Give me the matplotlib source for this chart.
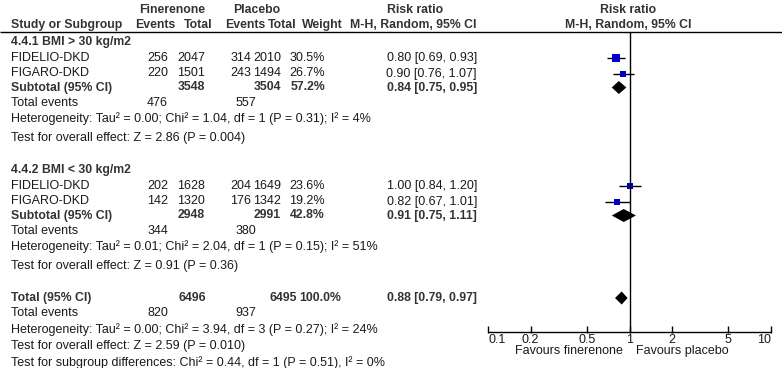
import numpy as np
import matplotlib.pyplot as plt

plt.rcParams["font.family"] = ["Liberation Sans", "DejaVu Sans"]

# study level data
studies = ["FIDELIO-DKD", "FIGARO-DKD", "FIDELIO-DKD", "FIGARO-DKD"]
study_group = [0, 0, 1, 1]
fin_events = [256, 220, 202, 142]
fin_total = [2047, 1501, 1628, 1320]
pla_events = [314, 243, 204, 176]
pla_total = [2010, 1494, 1649, 1342]
weights = [30.5, 26.7, 23.6, 19.2]
rr = [0.80, 0.90, 1.00, 0.82]
rr_lo = [0.69, 0.76, 0.84, 0.67]
rr_hi = [0.93, 1.07, 1.20, 1.01]

# subgroup summaries
subgroups = ["4.4.1 BMI > 30 kg/m2", "4.4.2 BMI < 30 kg/m2"]
sub_fin_events = [476, 344]
sub_fin_total = [3548, 2948]
sub_pla_events = [557, 380]
sub_pla_total = [3504, 2991]
sub_weight = [57.2, 42.8]
sub_rr = [0.84, 0.91]
sub_lo = [0.75, 0.75]
sub_hi = [0.95, 1.11]
sub_het = ["Heterogeneity: Tau\u00b2 = 0.00; Chi\u00b2 = 1.04, df = 1 (P = 0.31); I\u00b2 = 4%",
           "Heterogeneity: Tau\u00b2 = 0.01; Chi\u00b2 = 2.04, df = 1 (P = 0.15); I\u00b2 = 51%"]
sub_z = ["Test for overall effect: Z = 2.86 (P = 0.004)",
         "Test for overall effect: Z = 0.91 (P = 0.36)"]

# overall
tot_fin_events, tot_pla_events = 820, 937
tot_fin_total, tot_pla_total = 6496, 6495
tot_weight = 100.0
tot_rr, tot_lo, tot_hi = 0.88, 0.79, 0.97
tot_notes = ["Heterogeneity: Tau\u00b2 = 0.00; Chi\u00b2 = 3.94, df = 3 (P = 0.27); I\u00b2 = 24%",
             "Test for overall effect: Z = 2.59 (P = 0.010)",
             "Test for subgroup differences: Chi\u00b2 = 0.44, df = 1 (P = 0.51), I\u00b2 = 0%"]

ticks = [0.1, 0.2, 0.5, 1, 2, 5, 10]
tick_labels = ["0.1", "0.2", "0.5", "1", "2", "5", "10"]


def main():
    W, H = 782, 368
    fig = plt.figure(figsize=(W / 100, H / 100), dpi=100)
    ax = fig.add_axes([0, 0, 1, 1])
    ax.set_xlim(0, W)
    ax.set_ylim(H, 0)
    ax.axis("off")

    reg = dict(fontsize=9.0, color="#1a1a1a", va="center")
    bold = dict(fontsize=8.8, color="#333333", va="center", fontweight="bold")

    # column positions (px)
    x_name = 11
    x_fe, x_ft, x_pe, x_pt, x_w, x_rr = 168, 205, 251, 281, 325, 477
    x_te_f, x_te_p = 168, 256

    # headers
    ax.text(172, 10, "Finerenone", ha="center", **bold)
    ax.text(257, 10, "Placebo", ha="center", **bold)
    ax.text(415, 10, "Risk ratio", ha="center", **bold)
    ax.text(628, 10, "Risk ratio", ha="center", **bold)
    ax.text(x_name, 25, "Study or Subgroup", ha="left", **bold)
    ax.text(175, 25, "Events", ha="right", **bold)
    ax.text(213, 25, "Total", ha="right", **bold)
    ax.text(265, 25, "Events", ha="right", **bold)
    ax.text(297, 25, "Total", ha="right", **bold)
    ax.text(343, 25, "Weight", ha="right", **bold)
    ax.text(x_rr, 25, "M-H, Random, 95% CI", ha="right", **bold)
    ax.text(628, 25, "M-H, Random, 95% CI", ha="center", **bold)
    ax.hlines(32, 0, W, color="black", lw=1)

    # forest axes: log scale 0.1..10 mapped to px 488..771
    fx = fig.add_axes([488 / W, 0, 283 / W, 1])
    fx.set_xscale("log")
    fx.set_xlim(0.1, 10)
    fx.set_ylim(H, 0)
    fx.axis("off")

    group_top = [42, 170]
    offs = [16, 31.5, 45.5, 61.5, 76.5, 96]
    study_rows = []
    for g in range(len(subgroups)):
        y0 = group_top[g]
        ax.text(x_name, y0, subgroups[g], ha="left", **bold)
        idx = [i for i in range(len(studies)) if study_group[i] == g]
        for k, i in enumerate(idx):
            y = y0 + offs[k]
            study_rows.append(y)
            ax.text(x_name, y, studies[i], ha="left", **reg)
            ax.text(x_fe, y, str(fin_events[i]), ha="right", **reg)
            ax.text(x_ft, y, str(fin_total[i]), ha="right", **reg)
            ax.text(x_pe, y, str(pla_events[i]), ha="right", **reg)
            ax.text(x_pt, y, str(pla_total[i]), ha="right", **reg)
            ax.text(x_w, y, f"{weights[i]:.1f}%", ha="right", **reg)
            ax.text(x_rr, y, f"{rr[i]:.2f} [{rr_lo[i]:.2f}, {rr_hi[i]:.2f}]", ha="right", **reg)
        ys = y0 + offs[2]
        ax.text(x_name, ys, "Subtotal (95% CI)", ha="left", **bold)
        ax.text(x_ft, ys, str(sub_fin_total[g]), ha="right", **bold)
        ax.text(x_pt, ys, str(sub_pla_total[g]), ha="right", **bold)
        ax.text(x_w, ys, f"{sub_weight[g]:.1f}%", ha="right", **bold)
        ax.text(x_rr, ys, f"{sub_rr[g]:.2f} [{sub_lo[g]:.2f}, {sub_hi[g]:.2f}]", ha="right", **bold)
        ax.text(x_name, y0 + offs[3], "Total events", ha="left", **reg)
        ax.text(x_te_f, y0 + offs[3], str(sub_fin_events[g]), ha="right", **reg)
        ax.text(x_te_p, y0 + offs[3], str(sub_pla_events[g]), ha="right", **reg)
        ax.text(x_name, y0 + offs[4], sub_het[g], ha="left", **reg)
        ax.text(x_name, y0 + offs[5], sub_z[g], ha="left", **reg)
        # subtotal diamond
        fx.fill([sub_lo[g], sub_rr[g], sub_hi[g], sub_rr[g]],
                [ys, ys - 6.5, ys, ys + 6.5], color="black", lw=0)

    # study markers
    side = 1.27 * np.sqrt(weights) * 0.72
    fx.hlines(study_rows, rr_lo, rr_hi, color="black", lw=1)
    for y, r, s in zip(study_rows, rr, side):
        fx.plot(r, y, marker="s", ms=s, color="#0000c8", mec="#0000c8", mew=0)

    # overall
    yt = 298
    ax.text(x_name, yt, "Total (95% CI)", ha="left", **bold)
    ax.text(206, yt, str(tot_fin_total), ha="right", **bold)
    ax.text(297, yt, str(tot_pla_total), ha="right", **bold)
    ax.text(341, yt, f"{tot_weight:.1f}%", ha="right", **bold)
    ax.text(x_rr, yt, f"{tot_rr:.2f} [{tot_lo:.2f}, {tot_hi:.2f}]", ha="right", **bold)
    fx.fill([tot_lo, tot_rr, tot_hi, tot_rr], [yt, yt - 6.5, yt, yt + 6.5], color="black", lw=0)
    ax.text(x_name, 313, "Total events", ha="left", **reg)
    ax.text(x_te_f, 313, str(tot_fin_events), ha="right", **reg)
    ax.text(x_te_p, 313, str(tot_pla_events), ha="right", **reg)
    for k, note in enumerate(tot_notes):
        ax.text(x_name, 330 + 16.5 * k, note, ha="left", **reg)

    # axis and line of no effect
    axis_y = 332
    fx.vlines(1, 32, axis_y, color="black", lw=1, clip_on=False)
    fx.hlines(axis_y, ticks[0], ticks[-1], color="black", lw=1, clip_on=False)
    fx.vlines(ticks, axis_y - 6, axis_y + 1, color="black", lw=1, clip_on=False)
    for t, lab in zip(ticks, tick_labels):
        ha = "left" if t == ticks[0] else ("right" if t == ticks[-1] else "center")
        fx.text(t, axis_y + 8, lab, ha=ha, clip_on=False, **reg)
    fx.annotate("Favours finerenone", (1, axis_y + 19), xytext=(-7, 0), textcoords="offset pixels",
                ha="right", **reg)
    fx.annotate("Favours placebo", (1, axis_y + 19), xytext=(7, 0), textcoords="offset pixels",
                ha="left", **reg)

    fig.savefig("out.png", dpi=100)


if __name__ == "__main__":
    main()
